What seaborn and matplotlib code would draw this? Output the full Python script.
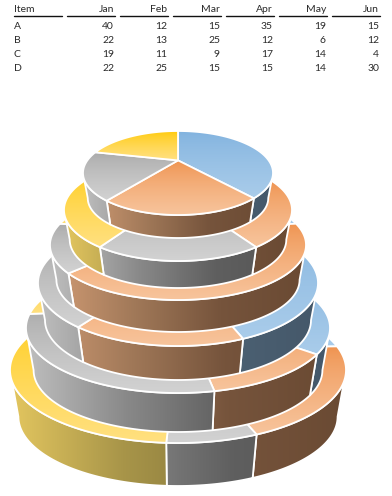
import numpy as np
import pandas as pd
import matplotlib
matplotlib.use("Agg")
import matplotlib.pyplot as plt
from matplotlib.patches import Polygon
import seaborn as sns

items = ["A", "B", "C", "D"]
months = ["Jan", "Feb", "Mar", "Apr", "May", "Jun"]
a_vals = [40, 12, 15, 35, 19, 15]
b_vals = [22, 13, 25, 12, 6, 12]
c_vals = [19, 11, 9, 17, 14, 4]
d_vals = [22, 25, 15, 15, 14, 30]
df = pd.DataFrame([a_vals, b_vals, c_vals, d_vals], index=items, columns=months)

# ring geometry in pixels, top layer first
half_w = [95, 114, 128, 140, 152, 168]
front_y = [215, 261, 300, 346, 393, 443]
mid_y = [173, 210, 245, 283, 328, 370]
depth = [23, 27, 32, 34, 39, 43]
CX = 178
PERSP = 0.3
TAPER = 0.95

top_cols = {"A": ("#7fb1de", "#a9ccea"), "B": ("#ef914c", "#f7c49c"),
            "C": ("#a8a8a8", "#d2d2d2"), "D": ("#ffc800", "#ffe080")}
wall_cols = {"A": ["#a0bfda", "#6f8aa0", "#4c6173", "#45586a"],
             "B": ["#d09b74", "#a07858", "#76543c", "#6a4a33"],
             "C": ["#bebebe", "#888888", "#5f5f5f", "#555555"],
             "D": ["#e3c65f", "#a89549", "#85763a", "#7a6c35"]}

sns.set_theme(style="white")
plt.rcParams["font.family"] = ["Lato", "DejaVu Sans"]

fig = plt.figure(figsize=(3.92, 4.96), dpi=100)
ax = fig.add_axes([0, 0, 1, 1])
ax.axis("off")


def ring(half, front, mid):
    span = front - mid
    return half * np.sqrt(1 - PERSP**2), span * (1 - PERSP**2), mid - PERSP * span


def project(theta, shape):
    a, b, py = shape
    rad = np.radians(theta)
    w = 1 + PERSP * np.cos(rad)
    return np.column_stack([CX + a * np.sin(rad) / w, py - b * np.cos(rad) / w])


def fill(pts, cmap, extent, vertical, z):
    patch = Polygon(pts, closed=True, fc="none", ec="white", lw=1.3, zorder=z + 1, joinstyle="round")
    ax.add_patch(patch)
    grad = np.linspace(0, 1, 128)
    grad = grad[:, None] ** 0.7 if vertical else grad[None, :]
    im = ax.imshow(grad, cmap=cmap, extent=extent, origin="upper", aspect="auto",
                   interpolation="bilinear", vmin=0, vmax=1, zorder=z)
    im.set_clip_path(patch)


z = 1
lim = np.degrees(np.arccos(-PERSP))
for i in range(len(months) - 1, -1, -1):
    vals = df[months[i]].to_numpy(dtype=float)
    edges = np.concatenate([[0], np.cumsum(vals) / vals.sum() * 360])
    top = ring(half_w[i], front_y[i], mid_y[i])
    span = (front_y[i] - mid_y[i]) * TAPER
    bot_front = front_y[i] + depth[i]
    bot = ring(half_w[i] * TAPER, bot_front, bot_front - span)

    # walls
    wx = (CX - half_w[i], CX + half_w[i])
    for k, item in enumerate(items):
        t0, t1 = max(edges[k], lim), min(edges[k + 1], 360 - lim)
        if t1 <= t0:
            continue
        th = np.linspace(t0, t1, 80)
        pts = np.vstack([project(th, top), project(th[::-1], bot)])
        cmap = sns.blend_palette(wall_cols[item], n_colors=128, as_cmap=True)
        fill(pts, cmap, (wx[0], wx[1], bot_front, mid_y[i] - 60), False, z)
        z += 2

    # top surface, gradient runs over each slice's own height
    for k, item in enumerate(items):
        th = np.linspace(edges[k], edges[k + 1], 100)
        pts = np.vstack([[[CX, top[2]]], project(th, top)])
        cmap = sns.blend_palette(top_cols[item], n_colors=128, as_cmap=True)
        fill(pts, cmap, (wx[0], wx[1], pts[:, 1].max(), pts[:, 1].min()), True, z)
        z += 2

# table
col_right = [114, 167, 220, 273, 326, 379]
col_left = [67, 120, 173, 226, 279, 332]
row_y = [26.5, 40.5, 54.5, 68.5]
fs = 7.5
txt = "#2a2a2a"
ax.text(14, 10, "Item", fontsize=fs, color=txt, ha="left", va="center")
ax.plot([14, 62], [16, 16], color="#111111", lw=1.0)
for j, m in enumerate(months):
    ax.text(col_right[j], 10, m, fontsize=fs, color=txt, ha="right", va="center")
    ax.plot([col_left[j], col_right[j] + 1], [16, 16], color="#111111", lw=1.0)
    for r, item in enumerate(items):
        ax.text(col_right[j], row_y[r], str(df.loc[item, m]), fontsize=fs, color=txt,
                ha="right", va="center")
for r, item in enumerate(items):
    ax.text(14, row_y[r], item, fontsize=fs, color=txt, ha="left", va="center")

ax.set_xlim(0, 392)
ax.set_ylim(496, 0)
fig.savefig("out.png", dpi=100, facecolor="white")
